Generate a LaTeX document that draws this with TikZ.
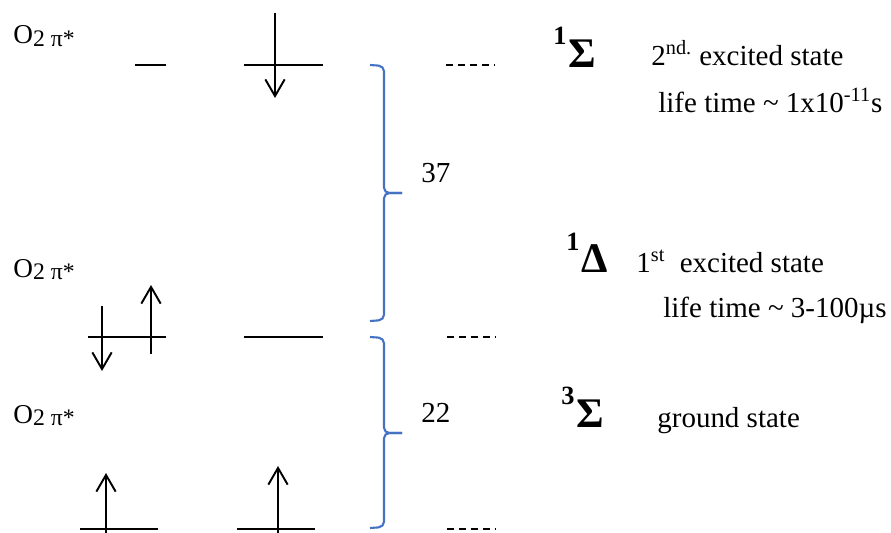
\documentclass[tikz,border=0pt]{standalone}
\usepackage{fontspec}
\setmainfont{Liberation Serif}
\usetikzlibrary{arrows.meta}
\definecolor{braceblue}{RGB}{68,114,196}
\tikzset{
	level/.style={line width=1.1pt},
	spin/.style={line width=1.1pt,-{Straight Barb[length=9.5pt,width=11pt]}},
	gap/.style={line width=1.1pt,dash pattern=on 4pt off 2.8pt},
	brc/.style={line width=1.2pt,braceblue,rounded corners=3pt},
	txt/.style={anchor=base west,inner sep=0pt}
}
\newcommand{\otwo}{{\fontsize{15.5}{17}\selectfont O}\raisebox{-0.1em}{\fontsize{13.5}{15}\selectfont 2 π*}}
\newcommand{\term}[2]{\bfseries\fontsize{15}{16}\selectfont\raisebox{0.46cm}{#1}\hspace{0.03cm}\fontsize{24}{25}\selectfont #2}

\begin{document}
\begin{tikzpicture}[x=0.02cm,y=-0.02cm]
	\useasboundingbox (0,0) rectangle (891,533);
	\fontsize{16.5}{20}\selectfont

	% molecular labels
	\node[txt] (otop) at (13,44) {\otwo};
	\node[txt] (omid) at (13,277) {\otwo};
	\node[txt] (obot) at (13,423) {\otwo};

	% levels
	\draw [level] (135,65) to (166,65);
	\draw [level] (244,65) to (323,65);
	\draw [level] (88,337) to (166,337);
	\draw [level] (244,337) to (323,337);
	\draw [level] (80,529) to (158,529);
	\draw [level] (237,529) to (315,529);

	\draw [gap] (446,65) to (494,65);
	\draw [gap] (447,337) to (495,337);
	\draw [gap] (447,529) to (495,529);

	% spins
	\draw [spin] (275,13) to (275,98);
	\draw [spin] (102,306) to (102,371);
	\draw [spin] (151,354) to (151,285);
	\draw [spin] (106,533) to (106,473);
	\draw [spin] (278,533) to (278,466);

	% braces
	\draw [brc] (370,65) -- (384,66) -- (384,193) -- (402,193);
	\draw [brc] (370,321) -- (384,320) -- (384,193) -- (402,193);
	\draw [brc] (370,337) -- (384,338) -- (384,433) -- (402,433);
	\draw [brc] (370,528) -- (384,527) -- (384,433) -- (402,433);

	\node[txt] (e37) at (421,183) {37};
	\node[txt] (e22) at (421,422) {22};

	% states
	\node[txt] (sig1) at (553,68) {\term{1}{Σ}};
	\node[txt] (ex2) at (651,66) {2\textsuperscript{nd.} excited state};
	\node[txt] (lt2) at (658,113) {life time \textasciitilde{} 1x10\textsuperscript{-11}s};

	\node[txt] (del1) at (566,273) {\term{1}{Δ}};
	\node[txt] (ex1) at (636,273) {1\textsuperscript{st}\hspace{0.5em}excited state};
	\node[txt] (lt1) at (663,317) {life time \textasciitilde{} 3-100µs};

	\node[txt] (sig3) at (561,427) {\term{3}{Σ}};
	\node[txt] (gnd) at (657,427) {ground state};
\end{tikzpicture}
\end{document}
